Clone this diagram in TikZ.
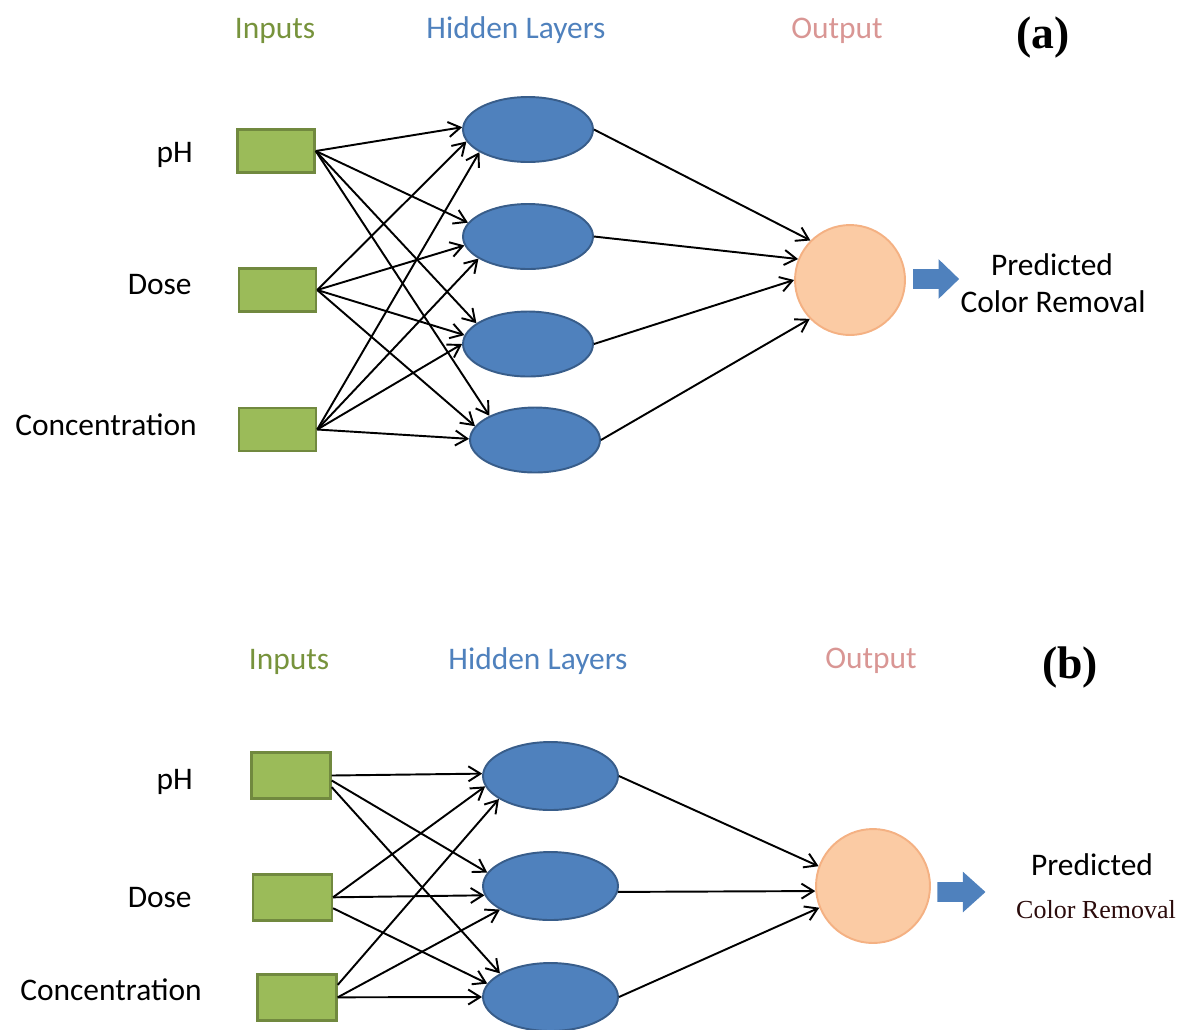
\documentclass[tikz,border=0pt]{standalone}
\usepackage{fontspec}
\setmainfont{Carlito}
\newfontfamily\serifface{Liberation Serif}
\usetikzlibrary{arrows.meta, shapes.geometric, shapes.arrows}
\definecolor{inpgreen}{HTML}{9BBB59}
\definecolor{inpedge}{HTML}{71893F}
\definecolor{inptitle}{HTML}{77933C}
\definecolor{hidblue}{HTML}{4F81BD}
\definecolor{hidedge}{HTML}{385D8A}
\definecolor{outfill}{HTML}{FBCBA4}
\definecolor{outedge}{HTML}{F4B183}
\definecolor{outtitle}{HTML}{D99694}
\definecolor{remdark}{HTML}{2B0B0B}

\begin{document}
\begin{tikzpicture}[
      x=0.02cm, y=-0.02cm,
      every node/.style={font=\fontsize{17.9}{21}\selectfont},
      inbox/.style={draw=inpedge, line width=1.4pt, fill=inpgreen,
                    minimum width=1.54cm, minimum height=0.86cm, inner sep=0pt},
      hid/.style={ellipse, draw=hidedge, line width=1.1pt, fill=hidblue,
                  minimum width=2.6cm, minimum height=1.3cm, inner sep=0pt},
      outn/.style={circle, draw=outedge, line width=1.1pt, fill=outfill,
                   minimum size=2.2cm, inner sep=0pt},
      fat/.style={single arrow, fill=hidblue, inner xsep=0pt, inner ysep=0.19cm,
                  minimum height=0.92cm, single arrow head extend=0.2cm,
                  single arrow tip angle=88},
      lbl/.style={anchor=base east, inner sep=0pt},
      head/.style={anchor=base, inner sep=0pt},
      tag/.style={anchor=base, inner sep=0pt,
                  font=\serifface\bfseries\fontsize{26}{30}\selectfont},
      link/.style={-{Straight Barb[length=0.24cm, width=0.3cm]}, line width=1.1pt},
    ]
    \useasboundingbox (0,0) rectangle (1193,1029);

    % ---- panel (a)
    \node[head, text=inptitle] (tinA) at (275,38) {Inputs};
    \node[head, text=hidblue] (thidA) at (516,38) {Hidden Layers};
    \node[head, text=outtitle] (toutA) at (837,38) {Output};
    \node[tag] (tagA) at (1043,48) {(a)};

    \node[inbox] (inA1) at (276,151) {};
    \node[inbox] (inA2) at (277.5,290) {};
    \node[inbox] (inA3) at (277.5,429.5) {};
    \node[lbl] (phA) at (193,162) {pH};
    \node[lbl] (doseA) at (192,294) {Dose};
    \node[lbl] (concA) at (197,435) {Concentration};

    \node[hid] (hidA1) at (528,129.5) {};
    \node[hid] (hidA2) at (528,236.5) {};
    \node[hid] (hidA3) at (528,344) {};
    \node[hid] (hidA4) at (535,440) {};

    \node[outn] (outA) at (850,280) {};
    \node[fat] (fatA) at (931,279) {};
    \node[head] (predA) at (1052,275) {Predicted};
    \node[head] (remA) at (1053,312) {Color Removal};

    \draw[link] (inA1.east) -- (hidA1.178);
    \draw[link] (inA1.east) -- (hidA2.167);
    \draw[link] (inA1.east) -- (hidA3.158);
    \draw[link] (inA1.east) -- (hidA4.152);
    \draw[link] (inA2.east) -- (hidA1.191);
    \draw[link] (inA2.east) -- (hidA2.188);
    \draw[link] (inA2.east) -- (hidA3.172);
    \draw[link] (inA2.east) -- (hidA4.167);
    \draw[link] (inA3.east) -- (hidA1.205);
    \draw[link] (inA3.east) -- (hidA2.204);
    \draw[link] (inA3.east) -- (hidA3.180);
    \draw[link] (inA3.east) -- (hidA4.179);

    \draw[link] (hidA1.east) -- (outA.135);
    \draw[link] (hidA2.east) -- (outA.158);
    \draw[link] (hidA3.east) -- (outA.180);
    \draw[link] (hidA4.east) -- (outA.224);

    % ---- panel (b)
    \node[head, text=inptitle] (tinB) at (289,669) {Inputs};
    \node[head, text=hidblue] (thidB) at (538,669) {Hidden Layers};
    \node[head, text=outtitle] (toutB) at (871,668) {Output};
    \node[tag] (tagB) at (1070,678) {(b)};

    \node[inbox, minimum width=1.58cm, minimum height=0.92cm] (inB1) at (291,775.5) {};
    \node[inbox, minimum width=1.58cm, minimum height=0.92cm] (inB2) at (292.3,897.3) {};
    \node[inbox, minimum width=1.58cm, minimum height=0.92cm] (inB3) at (297,997.3) {};
    \node[lbl] (phB) at (193,789) {pH};
    \node[lbl] (doseB) at (192,907) {Dose};
    \node[lbl] (concB) at (202,1000) {Concentration};

    \node[hid, minimum width=2.7cm, minimum height=1.36cm] (hidB1) at (550.5,776) {};
    \node[hid, minimum width=2.7cm, minimum height=1.36cm] (hidB2) at (550.5,886) {};
    \node[hid, minimum width=2.7cm, minimum height=1.36cm] (hidB3) at (550.5,997) {};

    \node[outn, minimum size=2.28cm] (outB) at (873,886) {};
    \node[fat, minimum height=0.96cm, single arrow head extend=0.21cm,
          single arrow tip angle=84] (fatB) at (956,892) {};
    \node[head] (predB) at (1092,875) {Predicted};
    \node[head, text=remdark, font=\serifface\fontsize{14.8}{18}\selectfont] (remB) at (1096,918) {Color Removal};

    \draw[link] (inB1.east) -- (hidB1.178);
    \draw[link] (inB1.-7) -- (hidB2.168);
    \draw[link] (inB1.-16) -- (hidB3.155);
    \draw[link] (inB2.east) -- (hidB1.189);
    \draw[link] (inB2.east) -- (hidB2.188);
    \draw[link] (inB2.-15) -- (hidB3.168);
    \draw[link] (inB3.17) -- (hidB1.204);
    \draw[link] (inB3.east) -- (hidB2.205);
    \draw[link] (inB3.east) -- (hidB3.180);

    \draw[link] (hidB1.east) -- (outB.160);
    \draw[link] (hidB2.-5) -- (outB.185);
    \draw[link] (hidB3.east) -- (outB.202);
  \end{tikzpicture}
\end{document}
